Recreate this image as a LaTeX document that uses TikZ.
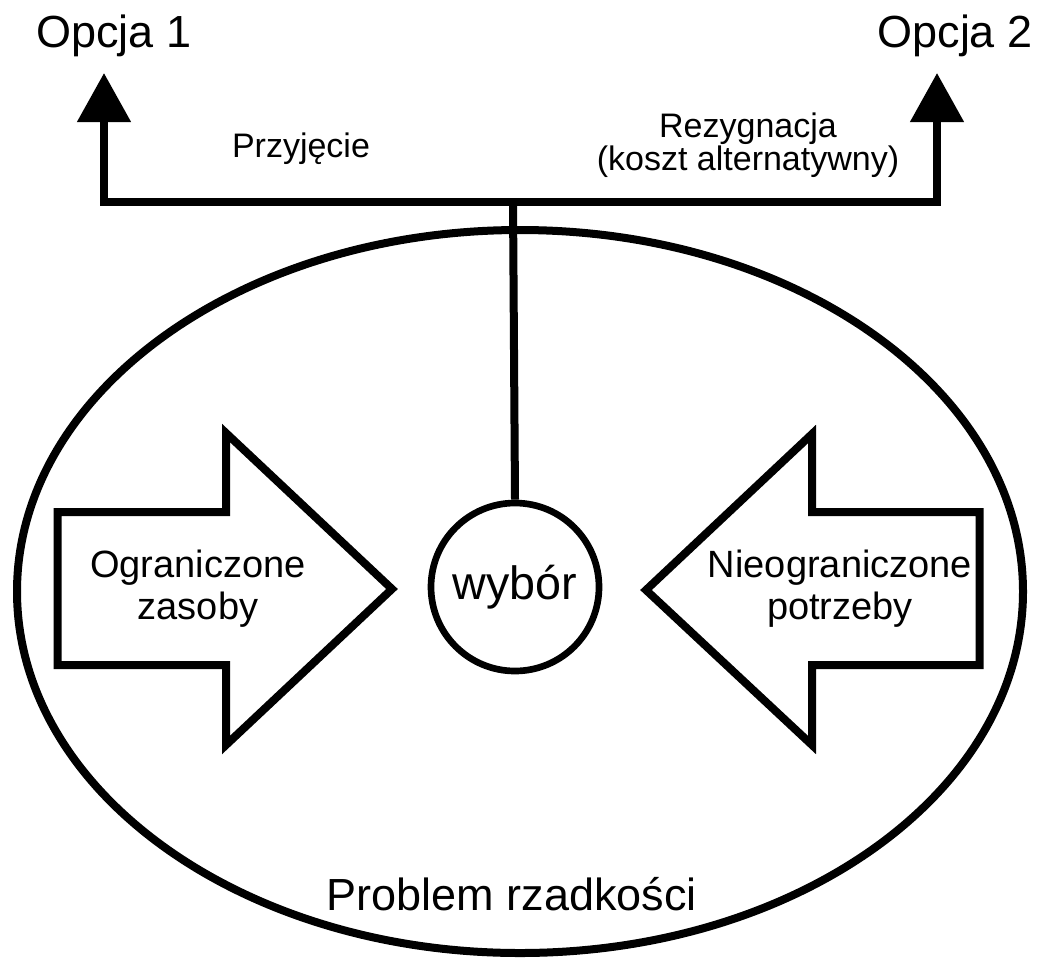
\documentclass[tikz,border=0pt]{standalone}
\usepackage{fontspec}
\setmainfont{Liberation Sans}
\usetikzlibrary{arrows.meta}

\begin{document}
\begin{tikzpicture}[x=0.75pt,y=-0.75pt]

% Units: one unit is one pixel of the sketch, y runs downwards
\tikzset{
  outline/.style={draw=black, line width=6pt, line join=miter},
  bigarrow/.style={outline, fill=white},
  opttip/.tip={Triangle[length=36.75pt, width=39pt]},
  opt/.style={font=\fontsize{33.75pt}{40pt}\selectfont, anchor=base},
  small/.style={font=\fontsize{25.5pt}{24.75pt}\selectfont, align=center},
  inside/.style={font=\fontsize{28.5pt}{31.5pt}\selectfont, align=center}
}
\useasboundingbox (0,0) rectangle (1041,961);

% Outer ellipse
\draw[outline] (520,591.5) ellipse [x radius=503, y radius=361.5];

% Choice circle
\node[outline, line width=5pt, circle, minimum size=126pt, inner sep=0pt,
      font=\fontsize{35pt}{40pt}\selectfont] (wybor) at (515,587) {wybór};

% Branch points
\coordinate (hub) at (513,202);
\coordinate (opt1) at (104,73);
\coordinate (opt2) at (937,73);

% Branch to both options
\draw[outline, opttip-opttip] (opt1) |- (hub) -| (opt2);
\draw[outline] (hub) -- (wybor.north);

% Big arrows pointing at the circle
\draw[bigarrow] (57.5,512) -- (226,512) -- (226,433) -- (392,589)
  -- (226,745) -- (226,665) -- (57.5,665) -- cycle;
\draw[bigarrow] (979.5,512) -- (812,512) -- (812,434) -- (646,590)
  -- (812,745) -- (812,665) -- (979.5,665) -- cycle;

% Labels
\node[inside] (zasoby) at (198,589) {Ograniczone\\zasoby};
\node[inside] (potrzeby) at (840,589) {Nieograniczone\\potrzeby};
\node[opt] (opcja1) at (114,47) {Opcja 1};
\node[opt] (opcja2) at (955,47) {Opcja 2};
\node[small, anchor=base] (przyjecie) at (301,157) {Przyjęcie};
\node[small] (rezygnacja) at (748,145) {Rezygnacja\\(koszt alternatywny)};
\node[font=\fontsize{33.75pt}{40pt}\selectfont, anchor=base] (rzadkosc) at (512,910) {Problem rzadkości};
\end{tikzpicture}
\end{document}
